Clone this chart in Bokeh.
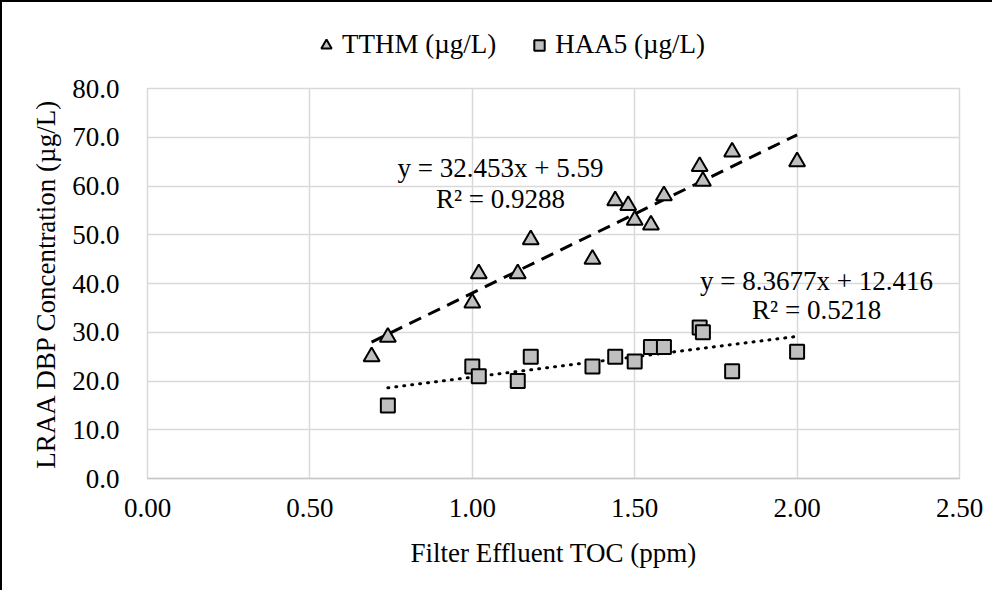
from bokeh.plotting import figure
from bokeh.layouts import column
from bokeh.models import Legend, LegendItem, Label, FixedTicker, Range1d, CustomJSTickFormatter
from bokeh.embed import file_html
from bokeh.resources import INLINE

# ---- data ----
tthm_x = [0.69, 0.74, 1.00, 1.02, 1.14, 1.18, 1.37, 1.44, 1.48, 1.50, 1.55, 1.59, 1.70, 1.71, 1.80, 2.00]
tthm_y = [25, 29, 36, 42, 42, 49, 45, 57, 56, 53, 52, 58, 64, 61, 67, 65]
haa5_x = [0.74, 1.00, 1.02, 1.14, 1.18, 1.37, 1.44, 1.50, 1.55, 1.59, 1.70, 1.71, 1.80, 2.00]
haa5_y = [15, 23, 21, 20, 25, 23, 25, 24, 27, 27, 31, 30, 22, 26]

tthm_fit = (32.453, 5.59, 0.9288)      # slope, intercept, R²
haa5_fit = (8.3677, 12.416, 0.5218)

series_names = ["TTHM (µg/L)", "HAA5 (µg/L)"]
x_ticks = [0.0, 0.5, 1.0, 1.5, 2.0, 2.5]
y_ticks = [0, 10, 20, 30, 40, 50, 60, 70, 80]

FONT = "Liberation Serif"
FS = "27px"
GRID = "#D9D9D9"
FILL = "#BFBFBF"
W = 992

# ---------------- main chart ----------------
p = figure(width=W, height=520, output_backend="svg", toolbar_location=None,
           x_range=Range1d(0, 2.5), y_range=Range1d(0, 80),
           min_border_left=145, min_border_right=35, min_border_top=18, min_border_bottom=112)
p.styles = {"border-left": "2px solid black", "box-sizing": "border-box"}
p.outline_line_color = GRID
p.outline_line_width = 1.5

p.xaxis.ticker = FixedTicker(ticks=x_ticks)
p.yaxis.ticker = FixedTicker(ticks=y_ticks)
p.xaxis.formatter = CustomJSTickFormatter(code="return tick.toFixed(2);")
p.yaxis.formatter = CustomJSTickFormatter(code="return tick.toFixed(1);")
for ax in (p.xaxis, p.yaxis):
    ax.major_tick_line_color = None
    ax.minor_tick_line_color = None
    ax.major_label_text_font = FONT
    ax.major_label_text_font_size = FS
    ax.major_label_text_color = "black"
    ax.axis_label_text_font = FONT
    ax.axis_label_text_font_size = FS
    ax.axis_label_text_font_style = "normal"
    ax.axis_label_text_color = "black"
p.xaxis.axis_line_color = "#C8C8C8"
p.xaxis.axis_line_width = 1.5
p.yaxis.axis_line_color = None
p.xaxis.axis_label = "Filter Effluent TOC (ppm)"
p.yaxis.axis_label = "LRAA DBP Concentration (µg/L)"
p.xaxis.major_label_standoff = 14
p.yaxis.major_label_standoff = 22
p.xaxis.axis_label_standoff = 18
p.yaxis.axis_label_standoff = 8

p.xgrid.grid_line_color = GRID
p.ygrid.grid_line_color = GRID
p.xgrid.grid_line_width = 1.5
p.ygrid.grid_line_width = 1.5

# trend lines (from the equations shown on the chart)
tx = [min(tthm_x), max(tthm_x)]
p.line(tx, [tthm_fit[0] * v + tthm_fit[1] for v in tx], line_color="black",
       line_width=3, line_dash="13 8")
hx = [min(haa5_x), max(haa5_x)]
p.line(hx, [haa5_fit[0] * v + haa5_fit[1] for v in hx], line_color="black",
       line_width=3, line_dash="1 7", line_cap="round")

# points
TRI = dict(marker="triangle", size=16, fill_color=FILL, line_color="black", line_width=2)
SQ = dict(marker="square", size=14, fill_color=FILL, line_color="black", line_width=2)
p.scatter(tthm_x, tthm_y, **TRI)
p.scatter(haa5_x, haa5_y, **SQ)

def add_label(x, y, txt):
    p.add_layout(Label(x=x, y=y, text=txt, text_font=FONT, text_font_size=FS,
                       text_align="center", text_baseline="middle", text_color="black"))

add_label(1.087, 63.6, f"y = {tthm_fit[0]}x + {tthm_fit[1]}")
add_label(1.087, 57.4, f"R² = {tthm_fit[2]}")
add_label(2.06, 40.6, f"y = {haa5_fit[0]}x + {haa5_fit[1]}")
add_label(2.06, 34.5, f"R² = {haa5_fit[2]}")

# ---------------- legend strip ----------------
leg = figure(width=W, height=70, output_backend="svg", toolbar_location=None,
             x_range=Range1d(0, 1), y_range=Range1d(0, 1),
             x_axis_location=None, y_axis_location=None,
             min_border_left=0, min_border_right=0, min_border_top=0, min_border_bottom=0)
leg.styles = {"border-left": "2px solid black", "border-top": "2px solid black",
              "box-sizing": "border-box"}
leg.grid.visible = False
leg.outline_line_color = None
# legend-only renderers: a single point placed outside the visible range
lr1 = leg.scatter([9], [9], **TRI)
lr2 = leg.scatter([9], [9], **SQ)
legend = Legend(items=[LegendItem(label=series_names[0], renderers=[lr1]),
                       LegendItem(label=series_names[1], renderers=[lr2])],
                orientation="horizontal", location=(166, 12),
                label_text_font=FONT, label_text_font_size=FS, label_text_color="black",
                glyph_width=26, glyph_height=26, label_standoff=3, spacing=30,
                padding=0, margin=0, border_line_color=None,
                background_fill_alpha=0)
leg.add_layout(legend, "center")

layout = column(leg, p, spacing=0)
open("out.html", "w").write(file_html(layout, INLINE))
